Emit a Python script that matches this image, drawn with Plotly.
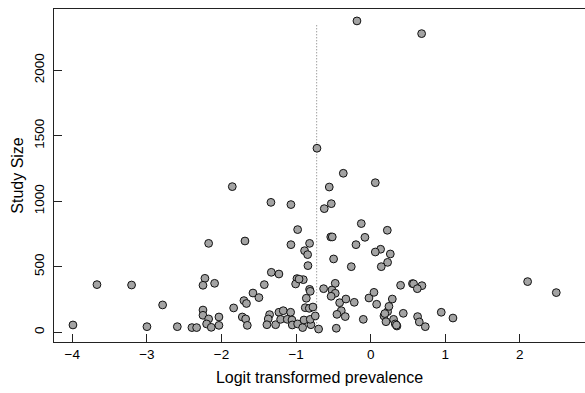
import plotly.graph_objects as go

# Logit transformed prevalence (x) and study size (y)
logit_prev = [
    -0.184, 0.683, -0.720, -0.367, -1.855, 0.062, -0.555, -1.337, -1.069, -0.528,
    -0.622, -0.126, -0.979, 0.223, -0.535, -0.515, -0.077, -2.172, -1.685, -1.069,
    -0.819, -0.197, -0.886, -0.845, 0.133, 0.062, 0.263, -0.497, 0.227, -0.841,
    -0.260, 0.142, -3.669, -3.205, -2.789, -3.991, -2.999, -2.592, -2.396, -2.333,
    2.104, 2.488, 0.946, 1.103, 0.401, 0.560, 0.575, 0.687, 0.625, 0.437,
    0.629, 0.652, 0.732,
    -2.222, -2.248, -2.092, -2.248, -2.248, -2.172, -2.034, -2.199, -2.137, -2.034,
    -1.837, -1.699, -1.665, -1.721, -1.676, -1.654, -1.578, -1.498, -1.426, -1.332,
    -1.230, -1.355, -1.373, -1.391, -1.274, -1.230, -1.172, -1.207, -1.118, -1.073,
    -1.055, -1.051, -0.979, -0.912, -0.894, -0.801, -0.810, -0.743, -0.698, -0.877,
    -0.823, -0.774, -0.863, -0.819, -0.810, -0.988, -1.006, -0.903, -0.960, -0.631,
    -0.519, -0.475, -0.475, -0.530, -0.416, -0.332, -0.220, -0.394, -0.452, -0.341,
    -0.461, -0.099, -0.023, 0.044, 0.080, 0.178, 0.205, 0.227, 0.245, 0.290,
    0.307, 0.330, 0.352, 0.345, 0.190,
]
study_size = [
    2377, 2280, 1405, 1214, 1112, 1142, 1109, 992, 975, 982,
    944, 830, 784, 779, 728, 728, 725, 679, 697, 669,
    679, 669, 623, 593, 634, 613, 598, 560, 534, 509,
    501, 501, 364, 361, 209, 56, 43, 43, 36, 36,
    387, 303, 153, 109, 359, 372, 370, 356, 333, 145,
    120, 79, 43,
    412, 359, 374, 170, 130, 102, 117, 64, 38, 53,
    186, 242, 220, 117, 102, 53, 300, 265, 364, 458,
    445, 135, 102, 58, 58, 153, 165, 99, 99, 153,
    94, 56, 64, 36, 94, 58, 99, 125, 25, 188,
    183, 193, 260, 328, 313, 410, 369, 402, 406, 333,
    323, 374, 298, 275, 226, 254, 229, 165, 137, 120,
    31, 99, 262, 305, 214, 125, 81, 158, 198, 254,
    99, 64, 48, 55, 143,
]

# Reference (mean) line
mean_logit = -0.724
mean_line_y = [0, 2350]

x_ticks = [-4, -3, -2, -1, 0, 1, 2]
y_ticks = [0, 500, 1000, 1500, 2000]

font_family = "Liberation Sans, Arial, Helvetica, sans-serif"
font_size = 13.5

fig = go.Figure()
fig.add_trace(go.Scatter(
    x=[mean_logit, mean_logit], y=mean_line_y, mode="lines",
    line=dict(color="#777777", width=1, dash="1px,2px"),
    hoverinfo="skip", showlegend=False,
))
fig.add_trace(go.Scatter(
    x=logit_prev, y=study_size, mode="markers",
    marker=dict(size=7.8, color="#a3a3a3", line=dict(color="#111111", width=1)),
    showlegend=False,
))

fig.update_layout(
    width=585, height=393,
    margin=dict(l=54, r=0, t=9, b=51, autoexpand=False),
    paper_bgcolor="white", plot_bgcolor="white",
    font=dict(family=font_family, size=font_size, color="black"),
    xaxis=dict(
        range=[-4.245, 2.873], tickvals=x_ticks, automargin=False,
        showline=True, linecolor="#222222", linewidth=1, mirror=True,
        ticks="inside", ticklen=8, tickcolor="#222222",
        showgrid=False, zeroline=False,
        title=dict(text="Logit transformed prevalence", standoff=10),
        tickfont=dict(size=font_size),
    ),
    yaxis=dict(
        range=[-74, 2468], tickvals=y_ticks, tickangle=-90, automargin=False,
        showline=True, linecolor="#222222", linewidth=1,
        ticks="inside", ticklen=8, tickcolor="#222222",
        ticklabelstandoff=4,
        showgrid=False, zeroline=False,
        title=dict(text="Study Size", standoff=3),
        tickfont=dict(size=font_size),
    ),
)

fig.write_html(
    "out.html",
    config={"displayModeBar": False},
    post_script="document.body.style.margin='0';document.body.style.padding='0';",
)
